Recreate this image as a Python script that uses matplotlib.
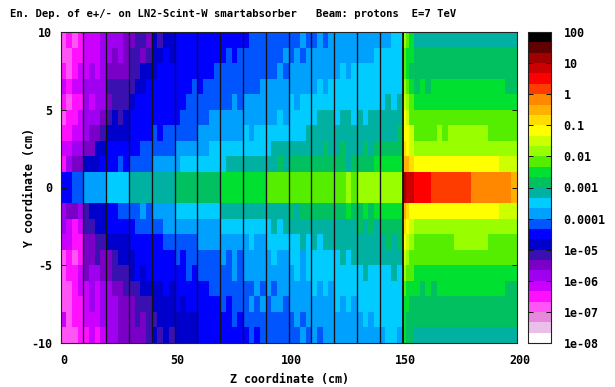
import numpy as np
import matplotlib
matplotlib.use("Agg")
import matplotlib.pyplot as plt
from matplotlib.colors import ListedColormap, LogNorm
from matplotlib.transforms import ScaledTranslation

plt.rcParams['font.family'] = ['DejaVu Sans Mono']
plt.rcParams['font.weight'] = 'bold'
plt.rcParams['axes.unicode_minus'] = False

TITLE = "En. Dep. of e+/- on LN2-Scint-W smartabsorber   Beam: protons  E=7 TeV"
XLABEL = "Z coordinate (cm)"
YLABEL = "Y coordinate (cm)"

# colour bands, low to high, three per decade from 1e-8 to 100
band_colors = ["#ffffff", "#eabfea", "#e888dd", "#ff55f5", "#ff10ff", "#cc00ff",
               "#a000f0", "#7a00c8", "#3a10b0", "#0000cc", "#0000ff", "#0055ff",
               "#00a0ff", "#00ccff", "#00b0a0", "#00c060", "#00e030", "#55ee00",
               "#99ff00", "#ccff00", "#ffff00", "#ffdd00", "#ffb000", "#ff8800",
               "#ff3c00", "#ff0000", "#cc0000", "#a00000", "#600000", "#000000"]

plate_z = [10, 20, 30, 40, 50, 60, 70, 80, 90, 100, 110, 120, 130, 140, 150]
y_edges = [-10, -9, -8, -7, -6, -5, -4, -3, -2, -1, 1, 2, 3, 4, 5, 6, 7, 8, 9, 10]
z_edges_calo = [2.5 * i for i in range(61)]
z_edges_back = [151.5, 153, 155, 157.5, 160, 162.5, 165, 167.5, 170, 172.5, 175, 177.5,
                180, 182.5, 185, 187.5, 190, 192.5, 195, 197.5, 200]

# band index per cell: row y=9..10 first, z rising
band_y9 = [3,4,3,4, 5,5,5,6, 6,6,6,7, 7,8,8,7, 9,8,9,9, 10,10,10,10, 10,10,10,10, 10,10,10,10, 10,11,11,11, 11,11,11,11, 11,11,12,11, 11,12,11,12, 12,12,12,12, 12,12,12,12, 12,12,13,13,
           18,17,16,14,14,14,14,14,14,14,14,14,14,14,14,14,14,14,14,14,14]
band_y8 = [3,3,4,4, 5,5,5,6, 6,7,6,7, 8,8,7,8, 9,9,10,9, 10,10,10,10, 10,10,10,10, 10,11,10,11, 11,11,11,11, 11,11,11,12, 11,12,11,12, 12,12,12,12, 12,12,12,12, 12,12,12,13, 13,13,13,13,
           17,16,16,15,15,15,15,15,15,15,15,15,15,15,15,15,15,15,15,15,15]
band_y7 = [4,3,4,5, 5,6,5,6, 7,7,7,7, 8,8,9,9, 9,10,10,10, 10,10,10,10, 10,10,10,11, 11,11,11,11, 11,11,11,11, 11,11,12,11, 12,12,12,12, 12,12,12,12, 12,13,12,13, 13,13,13,13, 13,13,13,13,
           17,16,15,15,15,15,15,15,15,15,15,15,15,15,15,15,15,15,15,15,15]
band_y6 = [5,4,5,5, 6,6,6,6, 8,8,8,8, 8,9,9,10, 10,10,10,10, 10,10,10,11, 10,11,11,11, 11,11,11,11, 11,11,11,12, 12,12,12,12, 12,12,12,12, 12,13,12,13, 13,13,13,13, 13,13,13,13, 13,13,13,13,
           18,17,16,15,16,15,16,16,16,16,16,16,16,16,16,16,16,16,16,15,15]
band_y5 = [4,3,4,4, 6,5,6,6, 7,8,8,8, 9,10,10,10, 10,10,10,10, 10,10,11,11, 11,11,11,11, 11,11,12,11, 12,12,12,12, 12,12,12,12, 13,12,13,13, 13,13,13,13, 13,13,13,13, 13,13,13,13, 13,14,13,14,
           19,18,17,16,16,16,16,16,16,16,16,16,16,16,16,16,16,16,16,16,16]
band_y4 = [3,4,4,5, 6,6,6,7, 8,9,8,9, 10,10,10,10, 10,10,10,10, 10,11,11,11, 11,11,12,12, 12,12,12,12, 12,12,12,12, 12,12,13,12, 13,13,13,13, 13,14,14,14, 13,14,14,13, 14,13,14,14, 14,14,14,14,
           20,19,17,17,17,17,17,17,17,17,17,17,17,17,17,17,17,17,17,17,17]
band_y3 = [4,4,5,5, 6,7,7,8, 9,9,9,9, 10,10,10,10, 11,10,11,11, 11,11,11,11, 12,12,12,12, 12,12,12,12, 13,12,13,13, 13,13,13,13, 13,13,13,14, 14,14,14,14, 14,14,14,14, 14,14,14,14, 14,14,14,15,
           20,20,19,17,17,17,17,18,17,18,18,18,18,18,18,18,17,17,17,17,17]
band_y2 = [5,5,6,6, 7,7,9,9, 10,10,10,10, 10,10,11,11, 11,11,11,11, 12,12,12,12, 12,12,13,13, 13,13,13,13, 13,13,13,13, 13,14,14,14, 14,14,14,14, 14,14,15,14, 14,15,14,14, 14,15,14,15, 15,15,15,15,
           21,20,19,18,18,18,18,18,18,18,18,18,18,18,18,18,18,18,18,18,18]
band_y1 = [4,6,7,7, 9,9,9,10, 10,10,11,10, 11,11,11,11, 12,12,12,12, 12,13,13,13, 13,13,13,13, 13,14,14,14, 14,14,14,14, 14,14,15,14, 15,15,15,15, 15,15,15,15, 15,15,14,15, 15,15,15,16, 16,16,16,16,
           22,22,21,20,20,20,20,20,20,20,20,20,20,20,20,20,20,20,19,19,19]
band_y0 = [10,10,11,11, 12,12,12,12, 13,13,13,13, 14,14,14,14, 14,14,14,14, 15,15,15,15, 15,15,15,15, 16,16,16,16, 16,16,16,16, 17,17,17,17, 17,17,17,17, 17,17,17,17, 17,17,18,17, 18,18,18,18, 18,18,18,18,
           27,26,26,25,25,25,24,24,24,24,24,24,24,23,23,23,23,23,23,23,22]
band_m1 = [6,7,7,6, 8,9,9,9, 10,10,11,11, 11,11,12,11, 12,12,12,12, 13,13,13,13, 13,13,13,13, 14,14,14,14, 14,14,14,14, 14,14,14,14, 15,14,15,15, 15,15,15,15, 15,15,16,15, 15,16,15,16, 16,16,16,16,
           22,21,20,20,20,20,20,20,20,20,20,20,20,20,20,20,20,20,19,19,19]
band_m2 = [6,5,4,5, 8,8,9,9, 10,10,10,10, 10,11,11,11, 11,11,12,12, 12,12,12,12, 12,12,12,12, 13,13,13,13, 13,13,13,13, 13,14,13,14, 14,14,14,14, 14,14,14,14, 14,14,14,14, 15,14,15,14, 15,15,15,15,
           21,20,19,18,18,18,18,18,18,18,18,18,18,18,18,18,18,18,18,18,18]
band_m3 = [5,5,4,4, 7,7,8,8, 9,9,9,9, 10,10,10,10, 10,10,11,11, 11,11,11,11, 12,12,12,12, 12,12,12,12, 12,13,12,12, 13,13,13,13, 13,13,14,13, 14,13,14,14, 14,14,14,14, 14,14,14,14, 14,15,14,15,
           20,19,18,17,17,17,17,17,17,17,18,18,18,18,18,18,17,17,17,17,17]
band_m4 = [3,4,3,4, 7,7,8,7, 7,8,9,9, 9,10,10,10, 10,10,10,10, 11,10,11,11, 11,11,11,11, 12,11,12,11, 12,12,12,12, 12,13,12,12, 13,13,12,13, 13,13,13,13, 13,14,13,14, 14,14,14,14, 14,14,14,14,
           19,18,17,17,17,17,17,17,17,17,17,17,17,17,17,17,17,17,17,17,17]
band_m5 = [3,4,4,5, 7,6,6,7, 7,8,8,8, 9,10,9,10, 10,10,10,10, 10,10,11,10, 11,11,11,11, 11,11,12,11, 12,12,12,12, 12,12,12,12, 12,13,12,13, 13,13,13,13, 13,13,13,13, 13,14,13,13, 13,13,14,13,
           18,17,17,16,16,16,16,16,16,16,16,16,16,16,16,16,16,16,16,16,16]
band_m6 = [3,3,4,5, 5,6,5,6, 6,7,7,8, 8,8,9,9, 9,9,10,9, 10,10,10,10, 10,10,11,11, 11,11,11,11, 11,11,12,11, 12,11,12,12, 12,12,12,12, 13,12,13,12, 13,13,13,13, 13,13,13,13, 13,13,13,13,
           17,16,16,16,15,16,15,16,16,16,16,16,16,16,16,16,16,16,16,15,15]
band_m7 = [3,3,4,4, 5,6,5,6, 6,6,7,7, 7,8,8,8, 9,9,9,9, 10,9,10,10, 10,10,10,10, 11,10,11,11, 11,12,11,12, 11,12,12,11, 12,12,12,12, 12,12,12,12, 13,12,13,12, 13,13,13,13, 13,13,13,13,
           16,16,15,15,15,15,15,15,15,15,15,15,15,15,15,15,15,15,15,15,15]
band_m8 = [5,3,4,4, 5,5,5,6, 6,6,7,7, 7,8,7,8, 8,9,9,9, 9,9,9,9, 10,10,10,10, 10,10,11,10, 11,11,11,11, 11,11,11,11, 11,12,11,12, 12,12,12,12, 12,12,12,12, 12,13,12,13, 13,13,13,13,
           16,15,15,15,15,15,15,15,15,15,15,15,15,15,15,15,15,15,15,15,15]
band_m9 = [3,3,3,4, 4,5,4,5, 6,6,7,7, 7,7,7,8, 9,8,9,8, 9,9,9,9, 10,10,10,10, 10,10,10,10, 10,11,10,11, 11,11,11,11, 11,11,12,11, 12,11,12,12, 12,12,12,12, 12,12,12,12, 12,13,13,12,
           16,15,15,14,14,14,14,14,14,14,14,14,14,14,14,14,14,14,14,14,14]

rows_bottom_up = [band_m9, band_m8, band_m7, band_m6, band_m5, band_m4, band_m3, band_m2, band_m1,
                  band_y0, band_y1, band_y2, band_y3, band_y4, band_y5, band_y6, band_y7, band_y8, band_y9]

z_edges = np.array(z_edges_calo + z_edges_back)
bands = np.array(rows_bottom_up, dtype=float)
energy = 1e-8 * 10 ** ((bands + 0.5) / 3)

W, H = 615, 387
fig = plt.figure(figsize=(W / 100, H / 100), dpi=100, facecolor="white")


def box(l, t, r, b):
    return [l / W, 1 - b / H, (r - l) / W, (b - t) / H]


ax = fig.add_axes(box(60.5, 32, 516.5, 343))
norm = LogNorm(1e-8, 100)
mesh = ax.pcolormesh(z_edges, y_edges, energy, cmap=ListedColormap(band_colors), norm=norm,
                     shading="flat", antialiased=False, rasterized=True)
ax.vlines(plate_z[:-1], -10, 10, colors="#101018", linewidth=0.95)
ax.vlines(plate_z[-1:], -10, 10, colors="#101010", linewidth=1.3)
ax.set_xlim(0, 200)
ax.set_ylim(-10, 10)
ax.set_xticks([0, 50, 100, 150, 200])
ax.set_yticks([-10, -5, 0, 5, 10])
ax.tick_params(axis="both", direction="in", length=3.6, width=0.7, color="#111111",
               top=True, right=True, labelsize=8.4, pad=6)
ax.tick_params(axis="x", pad=8)
for lab in ax.get_xticklabels():
    lab.set_transform(lab.get_transform() + ScaledTranslation(3 / 100, 0, fig.dpi_scale_trans))
for sp in ax.spines.values():
    sp.set_linewidth(0.8)
    sp.set_color("#222222")

fig.text(10 / W, 1 - 14 / H, TITLE, fontsize=7.6, ha="left", va="center")
fig.text(289 / W, 1 - 379 / H, XLABEL, fontsize=8.4, ha="center", va="center")
fig.text(30 / W, 1 - 187 / H, YLABEL, fontsize=8.4, ha="center", va="center", rotation=90)

cax = fig.add_axes(box(528, 32, 550.5, 343))
cbar = fig.colorbar(mesh, cax=cax)
cbar.set_ticks([1e-8, 1e-7, 1e-6, 1e-5, 1e-4, 1e-3, 1e-2, 0.1, 1, 10, 100])
cbar.set_ticklabels(["1e-08", "1e-07", "1e-06", "1e-05", "0.0001", "0.001", "0.01", "0.1", "1", "10", "100"])
cax.minorticks_off()
cax.tick_params(axis="y", direction="in", length=3.6, width=0.7, left=True, right=True,
                labelsize=8.4, pad=9.4, color="#111111")
cbar.outline.set_linewidth(0.8)
cbar.outline.set_edgecolor("#222222")

fig.savefig("out.png", dpi=100)
